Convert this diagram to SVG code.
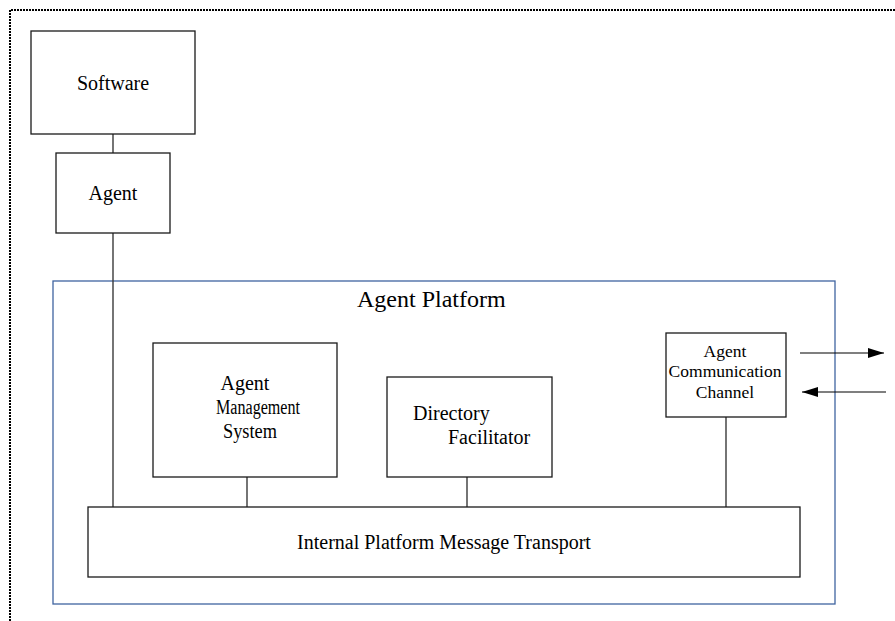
<svg xmlns="http://www.w3.org/2000/svg" width="895" height="621" viewBox="0 0 895 621">
  <style>
    .box { fill: #ffffff; stroke: #1a1a1a; stroke-width: 1.3; }
    .platform { fill: none; stroke: #3f64a0; stroke-width: 1.3; }
    .frame { fill: none; stroke: #000000; stroke-width: 2; stroke-dasharray: 2 1; }
    .link { stroke: #3a3a3a; stroke-width: 1.4; fill: none; }
    .arrow { stroke: #000000; stroke-width: 1.2; fill: none; }
    text { font-family: "Liberation Serif", "Times New Roman", serif; fill: #000000; }
    .t20 { font-size: 20px; text-anchor: middle; }
    .t17 { font-size: 17.5px; text-anchor: middle; }
    .t24 { font-size: 24px; }
  </style>
  <defs>
    <marker id="head" viewBox="0 0 16 10" refX="16" refY="5" markerWidth="16" markerHeight="10" markerUnits="userSpaceOnUse" orient="auto">
      <path d="M0,0 L16,5 L0,10 Z" fill="#000000"/>
    </marker>
  </defs>

  <rect width="895" height="621" fill="#ffffff"/>

  <!-- dotted outer frame (only top and left edges fall inside the page) -->
  <path class="frame" d="M10,621 L10,10 L895,10"/>

  <!-- platform boundary -->
  <g id="agent-platform">
    <rect class="platform" x="53" y="281" width="782" height="323"/>
    <text class="t24" x="357" y="307">Agent Platform</text>
  </g>

  <!-- connectors -->
  <g id="connectors">
    <line class="link" x1="113" y1="134" x2="113" y2="153"/>
    <line class="link" x1="113" y1="233" x2="113" y2="507"/>
    <line class="link" x1="247" y1="477" x2="247" y2="507"/>
    <line class="link" x1="467" y1="477" x2="467" y2="507"/>
    <line class="link" x1="726" y1="417" x2="726" y2="507"/>
    <line class="arrow" x1="800" y1="353" x2="884" y2="353" marker-end="url(#head)"/>
    <line class="arrow" x1="886" y1="392" x2="802" y2="392" marker-end="url(#head)"/>
  </g>

  <g id="software">
    <rect class="box" x="31" y="31" width="164" height="103"/>
    <text class="t20" x="113" y="90">Software</text>
  </g>

  <g id="agent">
    <rect class="box" x="56" y="153" width="114" height="80"/>
    <text class="t20" x="113" y="200">Agent</text>
  </g>

  <g id="agent-management-system">
    <rect class="box" x="153" y="343" width="184" height="134"/>
    <text class="t20" x="245" y="390">Agent</text>
    <text class="t20" x="258" y="414" textLength="84" lengthAdjust="spacingAndGlyphs">Management</text>
    <text class="t20" x="250" y="438" textLength="54" lengthAdjust="spacingAndGlyphs">System</text>
  </g>

  <g id="directory-facilitator">
    <rect class="box" x="387" y="377" width="165" height="100"/>
    <text style="font-size:20px" x="413" y="420">Directory</text>
    <text style="font-size:20px" x="448" y="444">Facilitator</text>
  </g>

  <g id="agent-communication-channel">
    <rect class="box" x="666" y="333" width="120" height="84"/>
    <text class="t17" x="725" y="357">Agent</text>
    <text class="t17" x="725" y="377">Communication</text>
    <text class="t17" x="725" y="398">Channel</text>
  </g>

  <g id="internal-platform-message-transport">
    <rect class="box" x="88" y="507" width="712" height="70"/>
    <text class="t20" x="444" y="549">Internal Platform Message Transport</text>
  </g>
</svg>
